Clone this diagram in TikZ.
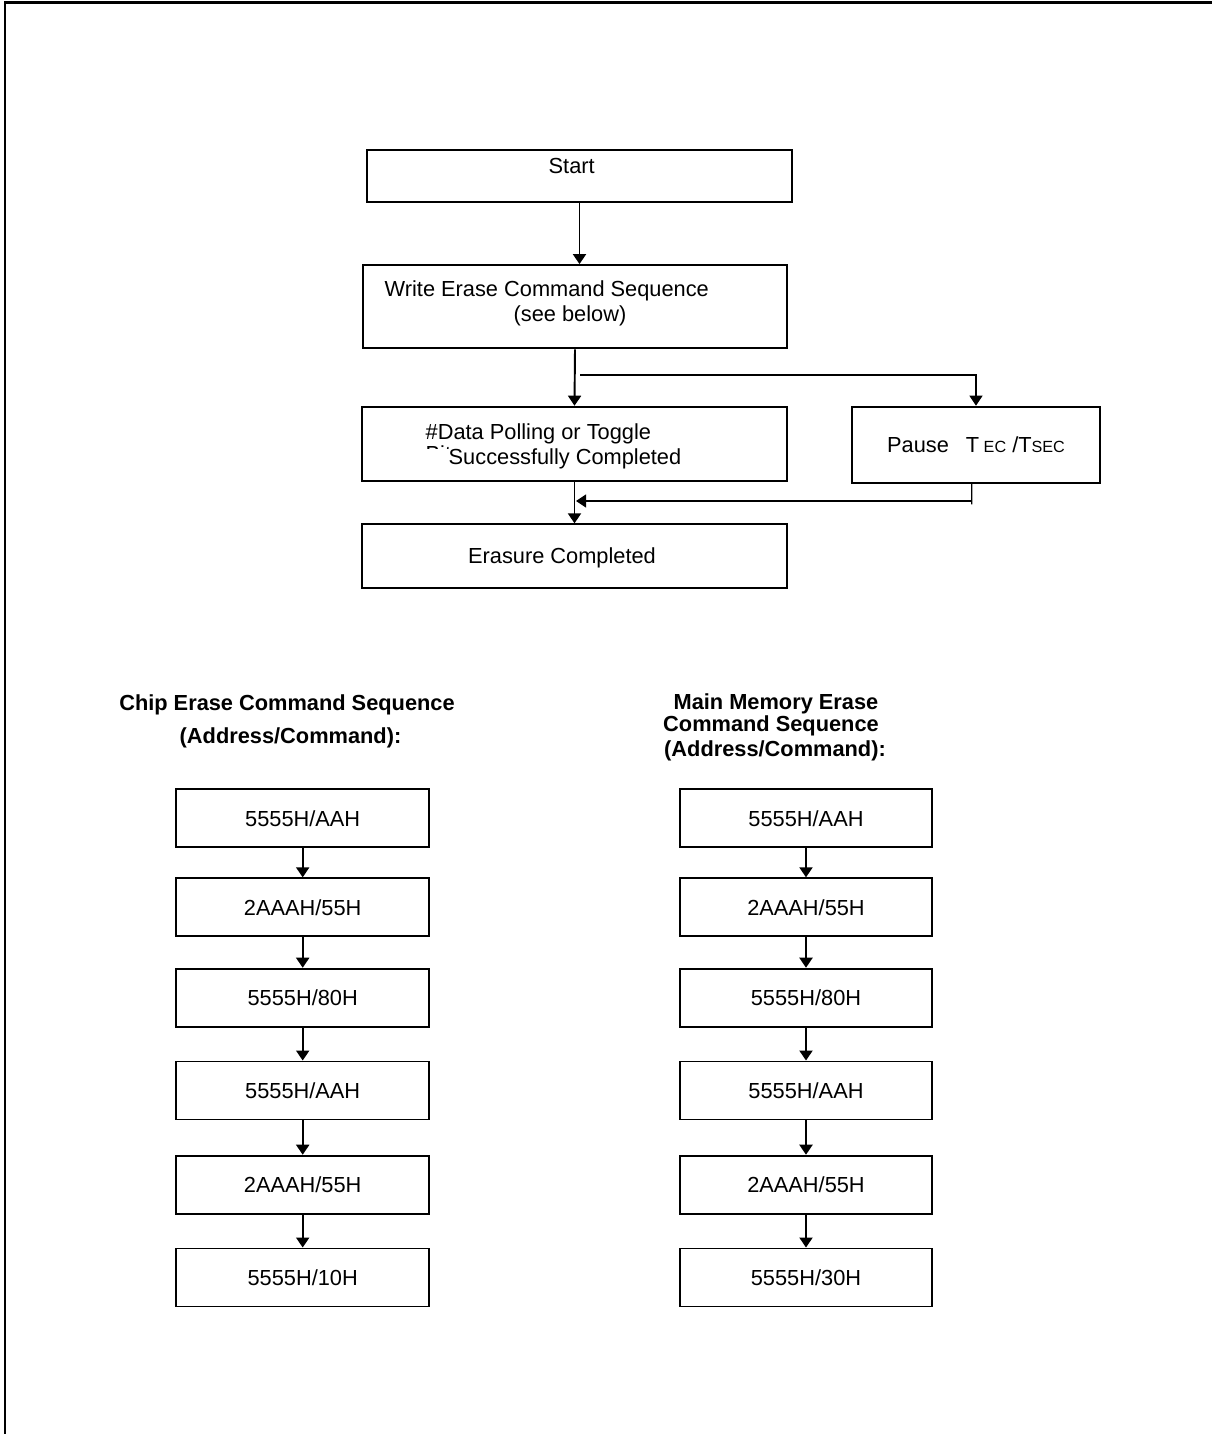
\documentclass[tikz,border=0pt]{standalone}
\usepackage{fontspec}
\setmainfont{Liberation Sans}
\usepackage{tikz}
\usetikzlibrary{arrows.meta}

\tikzset{
  box/.style={draw, line width=0.55pt, rectangle, inner sep=0pt, font=\fontsize{6.2}{7.5}\selectfont},
  txt/.style={inner sep=0pt, font=\fontsize{6.2}{7.5}\selectfont},
  ttl/.style={inner sep=0pt, font=\fontsize{6.2}{7.5}\selectfont\bfseries},
  link/.style={line width=0.55pt},
  feed/.style={line width=0.35pt},
  into/.style={-{Triangle[length=0.1cm,width=0.13cm]}}
}
\newcommand{\smallsub}{\fontsize{4.6}{5}\selectfont}

\begin{document}
\begin{tikzpicture}
    \useasboundingbox (0, 0) rectangle (12.12, -14.34);

    % frame
    \draw [line width=0.85pt] (0.05, -14.34) -- (0.05, -0.02) -- (12.12, -0.02);

    % erase flow
    \node [box, minimum width=4.25cm, minimum height=0.52cm] (start) at (5.795, -1.76) {};
    \node [txt, anchor=base] (starttxt) at (5.717, -1.733) {Start};

    \node [box, minimum width=4.234cm, minimum height=0.833cm] (write) at (5.75, -3.067) {};
    \node [txt, anchor=base west] (writetxt) at (3.84, -2.967) {Write Erase Command Sequence};
    \node [txt, anchor=base] (seetxt) at (5.70, -3.217) {(see below)};

    \node [box, minimum width=4.25cm, minimum height=0.743cm] (data) at (5.745, -4.438) {};
    \node [txt, anchor=base west] (datatxt) at (4.25, -4.393) {\#Data Polling or Toggle};
    \node [txt, anchor=base west] (bittxt) at (4.25, -4.61) {Bit};
    \node [txt, anchor=base west, fill=white, inner xsep=0.28cm] (donetxt) at (4.20, -4.643) {Successfully Completed};

    \node [box, minimum width=2.486cm, minimum height=0.76cm] (pause) at (9.76, -4.447)
        {Pause\hspace{0.17cm}T{\smallsub\ EC} /T{\smallsub SEC}};

    \node [box, minimum width=4.25cm, minimum height=0.634cm] (erase) at (5.745, -5.56) {};
    \node [txt, anchor=base] (erasetxt) at (5.62, -5.633) {Erasure Completed};

    \coordinate (brk) at (5.80, -3.75);
    \coordinate (ret) at (9.717, -5.01);
    \coordinate (mrg) at (5.76, -5.01);

    \draw [link, into] (start.south) -- (start.south |- write.north);
    \draw [link, into] (write.south) -- (data.north);
    \draw [feed, into] (brk) -| (pause.north);
    \draw [link, into] (data.south) -- (erase.north);
    \draw [feed] ([xshift=-0.043cm]pause.south) -- ([yshift=-0.033cm]ret);
    \draw [feed, into] (ret) -- (mrg);

    % chip erase sequence
    \node [ttl, anchor=base] (chipttl) at (2.87, -7.107) {Chip Erase Command Sequence};
    \node [ttl, anchor=base] (chipsub) at (2.905, -7.43) {(Address/Command):};

    \node [box, minimum width=2.53cm, minimum height=0.58cm] (c1) at (3.027, -8.183) {5555H/AAH};
    \node [box, minimum width=2.53cm, minimum height=0.58cm] (c2) at (3.027, -9.073) {2AAAH/55H};
    \node [box, minimum width=2.53cm, minimum height=0.58cm] (c3) at (3.027, -9.977) {5555H/80H};
    \node [box, minimum width=2.53cm, minimum height=0.58cm] (c4) at (3.027, -10.905) {5555H/AAH};
    \node [box, minimum width=2.53cm, minimum height=0.58cm] (c5) at (3.027, -11.847) {2AAAH/55H};
    \node [box, minimum width=2.53cm, minimum height=0.58cm] (c6) at (3.027, -12.775) {5555H/10H};

    \draw [link, into] (c1) -- (c2);
    \draw [link, into] (c2) -- (c3);
    \draw [link, into] (c3) -- (c4);
    \draw [link, into] (c4) -- (c5);
    \draw [link, into] (c5) -- (c6);

    % main memory erase sequence
    \node [ttl, anchor=base] (mainttl) at (7.76, -7.093) {Main Memory Erase};
    \node [ttl, anchor=base] (mainttl2) at (7.71, -7.317) {Command Sequence};
    \node [ttl, anchor=base] (mainsub) at (7.75, -7.56) {(Address/Command):};

    \node [box, minimum width=2.52cm, minimum height=0.58cm] (m1) at (8.06, -8.183) {5555H/AAH};
    \node [box, minimum width=2.52cm, minimum height=0.58cm] (m2) at (8.06, -9.073) {2AAAH/55H};
    \node [box, minimum width=2.52cm, minimum height=0.58cm] (m3) at (8.06, -9.977) {5555H/80H};
    \node [box, minimum width=2.52cm, minimum height=0.58cm] (m4) at (8.06, -10.905) {5555H/AAH};
    \node [box, minimum width=2.52cm, minimum height=0.58cm] (m5) at (8.06, -11.847) {2AAAH/55H};
    \node [box, minimum width=2.52cm, minimum height=0.58cm] (m6) at (8.06, -12.775) {5555H/30H};

    \draw [link, into] (m1) -- (m2);
    \draw [link, into] (m2) -- (m3);
    \draw [link, into] (m3) -- (m4);
    \draw [link, into] (m4) -- (m5);
    \draw [link, into] (m5) -- (m6);
  \end{tikzpicture}
\end{document}
